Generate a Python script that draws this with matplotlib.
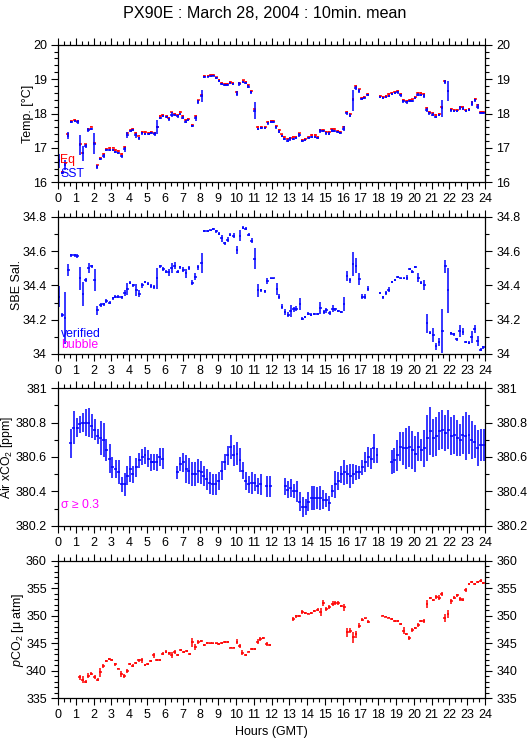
import numpy as np
import matplotlib
matplotlib.use("Agg")
import matplotlib.pyplot as plt
from matplotlib.ticker import MultipleLocator

plt.rcParams['font.family'] = ['Liberation Sans', 'DejaVu Sans']
plt.rcParams['mathtext.fontset'] = 'custom'
plt.rcParams['mathtext.rm'] = 'Liberation Sans'
plt.rcParams['mathtext.it'] = 'Liberation Sans:italic'

TITLE = "PX90E : March 28, 2004 : 10min. mean"
hour_ticks = list(range(0, 25))

# ---------------- Temperature panel ----------------
t_temp = [0.05, 0.25, 0.4, 0.55, 0.75, 0.95, 1.1, 1.25, 1.4, 1.55, 1.7, 1.87, 2.05, 2.2, 2.38, 2.57, 2.72, 2.9,
          3.1, 3.22, 3.4, 3.58, 3.75, 3.9, 4.08, 4.2, 4.37, 4.55, 4.73, 4.9, 5.1, 5.25, 5.43, 5.58, 5.75, 5.9,
          6.1, 6.23, 6.38, 6.55, 6.73, 6.87, 7.0, 7.17, 7.32, 7.55, 7.73, 7.88, 8.07, 8.22, 8.43, 8.58, 8.73, 8.9,
          9.05, 9.2, 9.37, 9.52, 9.68, 9.83, 10.05, 10.2, 10.4, 10.55, 10.7, 10.86, 11.05, 11.24, 11.43, 11.64,
          11.8, 11.98, 12.1, 12.26, 12.43, 12.58, 12.73, 12.9, 13.05, 13.23, 13.37, 13.57, 13.74, 13.89, 14.08,
          14.26, 14.45, 14.6, 14.75, 14.92, 15.07, 15.24, 15.39, 15.54, 15.72, 15.87, 16.06, 16.23, 16.42, 16.58,
          16.73, 16.92, 17.07, 17.22, 17.4, 18.1, 18.27, 18.44, 18.6, 18.76, 18.94, 19.09, 19.26, 19.41, 19.6,
          19.77, 19.92, 20.07, 20.22, 20.38, 20.57, 20.72, 20.87, 21.06, 21.23, 21.42, 21.58, 21.75, 21.92, 22.09,
          22.26, 22.43, 22.6, 22.76, 22.93, 23.1, 23.27, 23.44, 23.59, 23.76, 23.91]
sst = [16.62, 16.28, 16.5, 17.35, 17.75, 17.78, 17.75, 17.08, 16.84, 17.05, 17.52, 17.56, 17.12, 16.45, 16.68,
       16.76, 16.94, 16.95, 16.95, 16.88, 16.85, 16.76, 16.96, 17.37, 17.5, 17.52, 17.37, 17.28, 17.42, 17.41,
       17.4, 17.42, 17.4, 17.6, 17.88, 17.92, 17.9, 17.83, 17.97, 17.97, 17.92, 17.98, 17.88, 17.76, 17.8, 17.64,
       17.86, 18.34, 18.5, 19.06, 19.07, 19.08, 19.1, 19.02, 18.94, 18.87, 18.82, 18.83, 18.89, 18.87, 18.58,
       18.86, 18.92, 18.89, 18.78, 18.62, 18.08, 17.55, 17.57, 17.57, 17.71, 17.74, 17.74, 17.6, 17.47, 17.35,
       17.27, 17.21, 17.25, 17.26, 17.29, 17.37, 17.19, 17.22, 17.29, 17.32, 17.32, 17.28, 17.48, 17.49, 17.42,
       17.41, 17.5, 17.49, 17.46, 17.43, 17.56, 18.01, 17.94, 18.38, 18.74, 18.65, 18.42, 18.45, 18.53, 18.49,
       18.44, 18.49, 18.52, 18.56, 18.59, 18.62, 18.53, 18.35, 18.32, 18.36, 18.37, 18.44, 18.55, 18.55, 18.51,
       18.1, 18.01, 17.97, 17.9, 17.95, 18.15, 18.92, 18.65, 18.09, 18.07, 18.06, 18.16, 18.14, 18.07, 18.11,
       18.29, 18.38, 18.2, 18.02, 18.02]
sst_err = [0.2, 0.03, 0.15, 0.1, 0.03, 0.04, 0.05, 0.3, 0.22, 0.05, 0.07, 0.03, 0.3, 0.06, 0.03, 0.05, 0.03, 0.03,
           0.03, 0.03, 0.03, 0.04, 0.07, 0.08, 0.03, 0.03, 0.07, 0.05, 0.04, 0.03, 0.03, 0.03, 0.05, 0.2, 0.03, 0.03,
           0.03, 0.05, 0.07, 0.03, 0.04, 0.03, 0.04, 0.04, 0.03, 0.03, 0.08, 0.05, 0.17, 0.02, 0.02, 0.02, 0.02, 0.03,
           0.03, 0.03, 0.03, 0.03, 0.03, 0.03, 0.08, 0.05, 0.03, 0.03, 0.04, 0.04, 0.25, 0.04, 0.03, 0.03, 0.03, 0.03,
           0.03, 0.04, 0.04, 0.03, 0.03, 0.04, 0.06, 0.03, 0.04, 0.06, 0.03, 0.03, 0.03, 0.03, 0.03, 0.03, 0.06, 0.03,
           0.04, 0.04, 0.04, 0.03, 0.03, 0.04, 0.08, 0.04, 0.04, 0.3, 0.05, 0.06, 0.04, 0.04, 0.03, 0.03, 0.03, 0.03,
           0.03, 0.03, 0.03, 0.04, 0.04, 0.04, 0.03, 0.03, 0.03, 0.03, 0.05, 0.03, 0.05, 0.05, 0.04, 0.04, 0.04, 0.03,
           0.25, 0.06, 0.3, 0.04, 0.03, 0.03, 0.05, 0.04, 0.04, 0.03, 0.07, 0.04, 0.07, 0.03, 0.03]
eq = [16.66, 16.3, 16.55, 17.4, 17.78, 17.81, 17.78, 17.12, 16.85, 17.1, 17.56, 17.62, 17.15, 16.49, 16.7, 16.82,
      16.98, 17.0, 17.01, 16.93, 16.9, 16.82, 17.03, 17.42, 17.53, 17.56, 17.44, 17.36, 17.46, 17.46, 17.44, 17.47,
      17.44, 17.62, 17.92, 17.96, 17.94, 17.88, 18.03, 18.0, 17.97, 18.05, 17.93, 17.82, 17.85, 17.68, 17.92, 18.38,
      18.55, 19.08, 19.1, 19.11, 19.13, 19.05, 18.97, 18.9, 18.85, 18.86, 18.92, 18.9, 18.62, 18.9, 18.96, 18.93,
      18.82, 18.65, 18.12, 17.6, 17.62, 17.6, 17.75, 17.79, 17.79, 17.63, 17.52, 17.39, 17.31, 17.27, 17.3, 17.31,
      17.33, 17.42, 17.24, 17.26, 17.33, 17.37, 17.37, 17.32, 17.53, 17.53, 17.46, 17.46, 17.55, 17.54, 17.5, 17.47,
      17.62, 18.05, 17.98, 18.42, 18.8, 18.7, 18.46, 18.49, 18.57, 18.52, 18.48, 18.52, 18.56, 18.6, 18.62, 18.66,
      18.57, 18.39, 18.36, 18.4, 18.41, 18.48, 18.59, 18.59, 18.56, 18.15, 18.05, 18.01, 17.95, 17.99, 18.18, 18.95,
      18.65, 18.13, 18.11, 18.1, 18.2, 18.19, 18.1, 18.14, 18.32, 18.43, 18.26, 18.05, 18.05]

# ---------------- Salinity panel ----------------
t_sal = [0.05, 0.25, 0.4, 0.58, 0.75, 0.94, 1.09, 1.25, 1.4, 1.55, 1.72, 1.89, 2.06, 2.21, 2.4, 2.57, 2.72, 2.9,
         3.09, 3.22, 3.4, 3.58, 3.75, 3.9, 4.06, 4.23, 4.4, 4.57, 4.74, 4.9, 5.07, 5.24, 5.39, 5.56, 5.75, 5.92,
         6.09, 6.24, 6.39, 6.55, 6.72, 6.87, 7.04, 7.19, 7.36, 7.55, 7.72, 7.88, 8.07, 8.22, 8.41, 8.58, 8.73, 8.9,
         9.04, 9.19, 9.36, 9.53, 9.68, 9.87, 10.06, 10.23, 10.39, 10.54, 10.71, 10.88, 11.05, 11.24, 11.42, 11.64,
         11.77, 11.96, 12.1, 12.3, 12.43, 12.6, 12.76, 12.95, 13.08, 13.25, 13.4, 13.59, 13.74, 13.89, 14.07, 14.22,
         14.41, 14.6, 14.75, 14.94, 15.09, 15.27, 15.44, 15.59, 15.76, 15.93, 16.08, 16.25, 16.42, 16.58, 16.75,
         16.94, 17.11, 17.26, 17.43, 18.1, 18.27, 18.44, 18.59, 18.76, 18.94, 19.09, 19.26, 19.45, 19.62, 19.77,
         19.92, 20.09, 20.25, 20.4, 20.59, 20.74, 20.91, 21.1, 21.25, 21.42, 21.6, 21.77, 21.92, 22.09, 22.24, 22.41,
         22.58, 22.75, 22.91, 23.1, 23.25, 23.42, 23.59, 23.76, 23.91]
sal = [34.335, 34.228, 34.21, 34.49, 34.575, 34.575, 34.57, 34.44, 34.35, 34.43, 34.5, 34.51, 34.43, 34.255, 34.285,
       34.29, 34.31, 34.3, 34.325, 34.335, 34.335, 34.33, 34.355, 34.38, 34.415, 34.4, 34.375, 34.35, 34.4, 34.42,
       34.41, 34.395, 34.39, 34.44, 34.51, 34.495, 34.48, 34.475, 34.5, 34.515, 34.48, 34.505, 34.49, 34.47, 34.5,
       34.415, 34.45, 34.505, 34.53, 34.715, 34.715, 34.72, 34.73, 34.715, 34.7, 34.675, 34.645, 34.665, 34.695,
       34.69, 34.605, 34.69, 34.735, 34.73, 34.695, 34.66, 34.555, 34.37, 34.37, 34.365, 34.425, 34.44, 34.44, 34.38,
       34.335, 34.275, 34.245, 34.23, 34.25, 34.26, 34.265, 34.29, 34.205, 34.215, 34.235, 34.23, 34.235, 34.235,
       34.27, 34.245, 34.255, 34.24, 34.265, 34.26, 34.25, 34.245, 34.29, 34.455, 34.43, 34.525, 34.515, 34.435,
       34.335, 34.335, 34.38, 34.355, 34.33, 34.355, 34.375, 34.42, 34.43, 34.45, 34.44, 34.44, 34.445, 34.495,
       34.48, 34.505, 34.445, 34.415, 34.4, 34.18, 34.125, 34.11, 34.045, 34.07, 34.135, 34.51, 34.37, 34.12,
       34.115, 34.085, 34.135, 34.13, 34.07, 34.065, 34.1, 34.145, 34.075, 34.025, 34.04]
sal_err = [0.06, 0.01, 0.15, 0.035, 0.008, 0.008, 0.01, 0.065, 0.07, 0.01, 0.03, 0.01, 0.065, 0.025, 0.01, 0.008,
           0.01, 0.008, 0.01, 0.008, 0.008, 0.01, 0.015, 0.035, 0.01, 0.01, 0.035, 0.02, 0.015, 0.008, 0.008, 0.01,
           0.01, 0.06, 0.01, 0.01, 0.01, 0.02, 0.03, 0.02, 0.01, 0.008, 0.015, 0.025, 0.01, 0.015, 0.02, 0.015, 0.06,
           0.005, 0.005, 0.005, 0.005, 0.008, 0.008, 0.02, 0.008, 0.015, 0.01, 0.015, 0.025, 0.03, 0.008, 0.01, 0.01,
           0.015, 0.06, 0.035, 0.01, 0.01, 0.015, 0.005, 0.005, 0.035, 0.015, 0.015, 0.015, 0.015, 0.035, 0.015,
           0.015, 0.035, 0.008, 0.008, 0.01, 0.008, 0.005, 0.005, 0.035, 0.01, 0.015, 0.01, 0.02, 0.01, 0.008, 0.008,
           0.04, 0.03, 0.015, 0.07, 0.045, 0.035, 0.015, 0.015, 0.015, 0.008, 0.008, 0.01, 0.015, 0.008, 0.005,
           0.005, 0.005, 0.005, 0.015, 0.008, 0.008, 0.005, 0.025, 0.008, 0.03, 0.055, 0.008, 0.04, 0.02, 0.025,
           0.13, 0.04, 0.13, 0.01, 0.008, 0.01, 0.035, 0.02, 0.008, 0.008, 0.035, 0.025, 0.03, 0.01, 0.008]

# ---------------- Air xCO2 panel ----------------
t_air = [0.71, 0.88, 1.07, 1.22, 1.4, 1.57, 1.74, 1.89, 2.06, 2.23, 2.4, 2.57, 2.72, 2.9, 3.05, 3.24, 3.41, 3.58,
         3.75, 3.9, 4.06, 4.21, 4.4, 4.57, 4.74, 4.89, 5.07, 5.24, 5.39, 5.56, 5.73, 5.9, 6.7, 6.87, 7.04, 7.21,
         7.36, 7.55, 7.72, 7.88, 8.05, 8.18, 8.37, 8.52, 8.71, 8.86, 9.04, 9.21, 9.38, 9.55, 9.72, 9.89, 10.06,
         10.23, 10.39, 10.54, 10.71, 10.88, 11.05, 11.24, 11.39, 11.73, 11.92, 12.76, 12.91, 13.08, 13.25, 13.42,
         13.59, 13.76, 13.92, 14.07, 14.26, 14.41, 14.58, 14.75, 14.92, 15.09, 15.25, 15.42, 15.59, 15.76, 15.93,
         16.1, 16.27, 16.43, 16.6, 16.77, 16.94, 17.11, 17.28, 17.45, 17.61, 17.76, 17.93, 18.76, 18.91, 19.07,
         19.24, 19.41, 19.58, 19.75, 19.92, 20.09, 20.25, 20.42, 20.59, 20.76, 20.93, 21.1, 21.27, 21.43, 21.6,
         21.77, 21.94, 22.09, 22.26, 22.43, 22.6, 22.76, 22.93, 23.1, 23.25, 23.42, 23.59, 23.76, 23.93]
air = [380.68, 380.77, 380.77, 380.79, 380.8, 380.8, 380.8, 380.78, 380.76, 380.72, 380.71, 380.7, 380.64, 380.59,
       380.54, 380.53, 380.51, 380.44, 380.44, 380.49, 380.53, 380.5, 380.54, 380.58, 380.6, 380.61, 380.59, 380.57,
       380.57, 380.57, 380.6, 380.59, 380.51, 380.56, 380.57, 380.53, 380.52, 380.5, 380.5, 380.52, 380.51, 380.49,
       380.47, 380.45, 380.44, 380.44, 380.46, 380.52, 380.57, 380.61, 380.66, 380.61, 380.62, 380.58, 380.52,
       380.46, 380.44, 380.45, 380.45, 380.43, 380.44, 380.43, 380.43, 380.43, 380.41, 380.42, 380.4, 380.4,
       380.34, 380.31, 380.31, 380.34, 380.36, 380.36, 380.36, 380.36, 380.35, 380.35, 380.33, 380.4, 380.44,
       380.46, 380.5, 380.51, 380.5, 380.49, 380.5, 380.51, 380.51, 380.54, 380.57, 380.6, 380.59, 380.65, 380.61,
       380.57, 380.58, 380.61, 380.66, 380.65, 380.65, 380.66, 380.64, 380.62, 380.66, 380.64, 380.65, 380.71,
       380.75, 380.71, 380.72, 380.75, 380.76, 380.74, 380.76, 380.72, 380.73, 380.71, 380.7, 380.73, 380.72,
       380.73, 380.7, 380.69, 380.65, 380.67, 380.67]
air_err = [0.085, 0.095, 0.055, 0.05, 0.055, 0.08, 0.085, 0.07, 0.06, 0.045, 0.1, 0.1, 0.065, 0.085, 0.06, 0.055,
           0.07, 0.045, 0.065, 0.055, 0.075, 0.05, 0.055, 0.045, 0.045, 0.05, 0.05, 0.05, 0.045, 0.05, 0.05, 0.06,
           0.04, 0.04, 0.055, 0.08, 0.075, 0.07, 0.07, 0.07, 0.065, 0.06, 0.06, 0.065, 0.06, 0.06, 0.05, 0.055,
           0.045, 0.055, 0.07, 0.06, 0.065, 0.07, 0.05, 0.05, 0.05, 0.065, 0.05, 0.045, 0.06, 0.06, 0.06, 0.05,
           0.05, 0.05, 0.04, 0.06, 0.055, 0.06, 0.045, 0.055, 0.07, 0.07, 0.065, 0.07, 0.055, 0.04, 0.045, 0.035,
           0.08, 0.055, 0.05, 0.075, 0.055, 0.07, 0.06, 0.045, 0.04, 0.045, 0.06, 0.06, 0.06, 0.085, 0.045, 0.07,
           0.075, 0.09, 0.085, 0.095, 0.12, 0.12, 0.11, 0.105, 0.085, 0.065, 0.11, 0.135, 0.14, 0.11, 0.115, 0.11,
           0.115, 0.105, 0.115, 0.11, 0.115, 0.105, 0.095, 0.11, 0.14, 0.115, 0.11, 0.095, 0.105, 0.095, 0.095]

# ---------------- pCO2 panel ----------------
t_pco2 = [1.22, 1.39, 1.55, 1.7, 1.87, 2.06, 2.23, 2.38, 2.55, 2.7, 2.87, 3.03, 3.22, 3.39, 3.56, 3.73, 3.9, 4.04,
          4.21, 4.38, 4.55, 4.72, 4.89, 5.04, 5.22, 5.39, 5.56, 5.73, 5.9, 6.07, 6.24, 6.39, 6.55, 6.74, 6.89, 7.06,
          7.23, 7.4, 7.55, 7.72, 7.88, 8.05, 8.22, 8.39, 8.56, 8.71, 8.9, 9.04, 9.21, 9.38, 9.55, 9.72, 9.89, 10.06,
          10.21, 10.37, 10.54, 10.71, 10.88, 11.05, 11.22, 11.37, 11.54, 11.73, 11.9, 13.23, 13.4, 13.57, 13.74,
          13.91, 14.07, 14.24, 14.41, 14.6, 14.77, 14.92, 15.09, 15.25, 15.44, 15.59, 15.76, 15.93, 16.1, 16.27,
          16.43, 16.6, 16.75, 16.92, 17.09, 17.26, 17.45, 18.25, 18.42, 18.59, 18.76, 18.92, 19.09, 19.26, 19.43,
          19.58, 19.75, 19.92, 20.09, 20.25, 20.4, 20.57, 20.74, 20.91, 21.08, 21.25, 21.42, 21.58, 21.75, 21.92,
          22.09, 22.26, 22.43, 22.6, 22.76, 22.93, 23.1, 23.25, 23.42, 23.59, 23.76, 23.91]
pco2 = [338.8, 338.4, 338.0, 339.1, 339.5, 338.9, 338.4, 339.7, 340.9, 341.8, 342.1, 342.0, 341.2, 340.4, 339.5,
        339.0, 340.0, 341.2, 340.9, 341.4, 341.9, 341.9, 341.1, 341.2, 341.8, 342.8, 341.9, 341.9, 343.1, 343.5,
        343.2, 342.9, 343.4, 342.9, 343.8, 343.4, 343.6, 343.1, 345.2, 344.3, 345.2, 345.4, 344.7, 345.0, 345.0,
        345.0, 345.0, 344.9, 345.0, 345.2, 345.2, 344.2, 344.2, 345.3, 344.5, 343.3, 342.9, 343.5, 343.9, 343.9,
        345.3, 345.8, 345.9, 344.9, 344.7, 349.4, 349.9, 350.0, 350.7, 350.5, 350.4, 350.5, 350.9, 351.1, 350.7,
        352.3, 351.2, 351.6, 352.2, 352.3, 352.3, 351.8, 351.5, 347.0, 347.3, 346.1, 346.6, 348.2, 349.3, 349.5,
        348.9, 350.0, 349.8, 349.6, 349.4, 349.1, 349.0, 348.5, 347.3, 346.7, 345.9, 347.4, 347.8, 348.3, 349.0,
        349.0, 352.1, 353.2, 352.9, 353.4, 353.3, 353.9, 349.6, 350.3, 352.6, 353.3, 353.7, 353.0, 352.9, 354.6,
        355.7, 356.1, 355.8, 356.1, 356.4, 355.9]
pco2_err = [0.5, 0.6, 0.3, 0.45, 0.2, 0.4, 0.3, 0.75, 0.4, 0.2, 0.15, 0.2, 0.3, 0.15, 0.55, 0.4, 0.35, 0.2, 0.3,
            0.2, 0.25, 0.4, 0.2, 0.15, 0.2, 0.5, 0.2, 0.15, 0.3, 0.2, 0.3, 0.55, 0.35, 0.2, 0.15, 0.2, 0.25, 0.2,
            0.8, 0.6, 0.4, 0.25, 0.25, 0.15, 0.1, 0.1, 0.1, 0.15, 0.2, 0.15, 0.15, 0.15, 0.1, 0.5, 0.3, 0.4, 0.2,
            0.15, 0.15, 0.2, 0.5, 0.3, 0.2, 0.4, 0.2, 0.35, 0.3, 0.15, 0.3, 0.15, 0.1, 0.15, 0.2, 0.3, 0.75, 0.6,
            0.4, 0.3, 0.4, 0.3, 0.3, 0.2, 0.7, 0.85, 0.4, 1.0, 0.7, 0.4, 0.2, 0.15, 0.3, 0.1, 0.1, 0.1, 0.1, 0.15,
            0.15, 0.2, 0.65, 0.2, 0.35, 0.3, 0.2, 0.3, 0.2, 0.35, 0.7, 0.15, 0.2, 0.35, 0.4, 0.4, 0.75, 0.8, 0.45,
            0.2, 0.25, 0.4, 0.3, 0.35, 0.2, 0.15, 0.2, 0.15, 0.2, 0.2]

BLUE = '#0000ff'
RED = '#ff0000'
MAG = '#ff00ff'
HALF = 1.0 / 12.0  # half-width of the 10-minute averaging window (hours)

W, H = 529, 739
fig = plt.figure(figsize=(W / 100, H / 100), dpi=100)

def px_axes(x0, y0, x1, y1):
    return fig.add_axes([x0 / W, 1 - y1 / H, (x1 - x0) / W, (y1 - y0) / H])

panels = [(44.7, 182.3), (216.7, 354.0), (388.3, 525.7), (560.7, 698.3)]
axes = [px_axes(58, a, 485, b) for a, b in panels]

FS = 9.0
LFS = 9.0
TFS = 8.8
for ax in axes:
    ax.set_xlim(0, 24)
    ax.set_xticks(hour_ticks)
    ax.set_xticklabels([str(h) for h in hour_ticks])
    ax.xaxis.set_minor_locator(MultipleLocator(1 / 3))
    ax.tick_params(which='both', direction='out', top=True, right=True,
                   labelright=True, labeltop=False, labelsize=FS, width=0.8, colors='black')
    ax.tick_params(which='major', length=5, pad=3)
    ax.tick_params(which='minor', length=3)
    for s in ax.spines.values():
        s.set_linewidth(0.9)

ekw = dict(fmt='none', elinewidth=1.1, capsize=0)

# Panel 1
ax = axes[0]
ax.errorbar(t_temp, eq, xerr=HALF, yerr=0.025, ecolor=RED, **ekw)
ax.errorbar(t_temp, sst, xerr=HALF * 0.85, yerr=sst_err, ecolor=BLUE, **ekw)
ax.set_ylim(16, 20)
ax.yaxis.set_major_locator(MultipleLocator(1))
ax.yaxis.set_minor_locator(MultipleLocator(0.2))
ax.set_ylabel('Temp. [°C]', fontsize=LFS)
ax.yaxis.set_label_coords(-0.057, 0.5)
ax.text(0.005, 0.14, 'Eq', color=RED, fontsize=TFS, transform=ax.transAxes, va='baseline')
ax.text(0.005, 0.038, 'SST', color=BLUE, fontsize=TFS, transform=ax.transAxes, va='baseline')

# Panel 2
ax = axes[1]
ax.errorbar(t_sal, sal, xerr=HALF * 0.85, yerr=sal_err, ecolor=BLUE, **ekw)
ax.set_ylim(34, 34.8)
ax.set_yticks([34, 34.2, 34.4, 34.6, 34.8])
ax.set_yticklabels(['34', '34.2', '34.4', '34.6', '34.8'])
ax.yaxis.set_minor_locator(MultipleLocator(0.1))
ax.set_ylabel('SBE Sal.', fontsize=LFS)
ax.yaxis.set_label_coords(-0.083, 0.5)
ax.text(0.007, 0.126, 'verified', color=BLUE, fontsize=TFS, transform=ax.transAxes, va='baseline')
ax.text(0.007, 0.045, 'bubble', color=MAG, fontsize=TFS, transform=ax.transAxes, va='baseline')

# Panel 3
ax = axes[2]
ax.errorbar(t_air, air, xerr=HALF, yerr=air_err, ecolor=BLUE, **ekw)
ax.set_ylim(380.2, 381)
ax.set_yticks([380.2, 380.4, 380.6, 380.8, 381])
ax.set_yticklabels(['380.2', '380.4', '380.6', '380.8', '381'])
ax.yaxis.set_minor_locator(MultipleLocator(0.1))
ax.set_ylabel('Air xCO$_2$ [ppm]', fontsize=LFS - 0.2)
ax.yaxis.set_label_coords(-0.101, 0.5)
ax.text(0.007, 0.127, 'σ ≥ 0.3', color=MAG, fontsize=TFS, transform=ax.transAxes, va='baseline')

# Panel 4
ax = axes[3]
ax.errorbar(t_pco2, pco2, xerr=HALF, yerr=pco2_err, ecolor=RED, **ekw)
ax.set_ylim(335, 360)
ax.yaxis.set_major_locator(MultipleLocator(5))
ax.yaxis.set_minor_locator(MultipleLocator(1))
ax.set_ylabel('$\\it{p}$CO$_2$ [μ atm]', fontsize=LFS)
ax.yaxis.set_label_coords(-0.076, 0.5)
ax.set_xlabel('Hours (GMT)', fontsize=LFS, labelpad=3)

fig.text(0.5, 1 - 13 / H, TITLE, ha='center', va='center', fontsize=11.6)

fig.savefig('out.png', dpi=100)
